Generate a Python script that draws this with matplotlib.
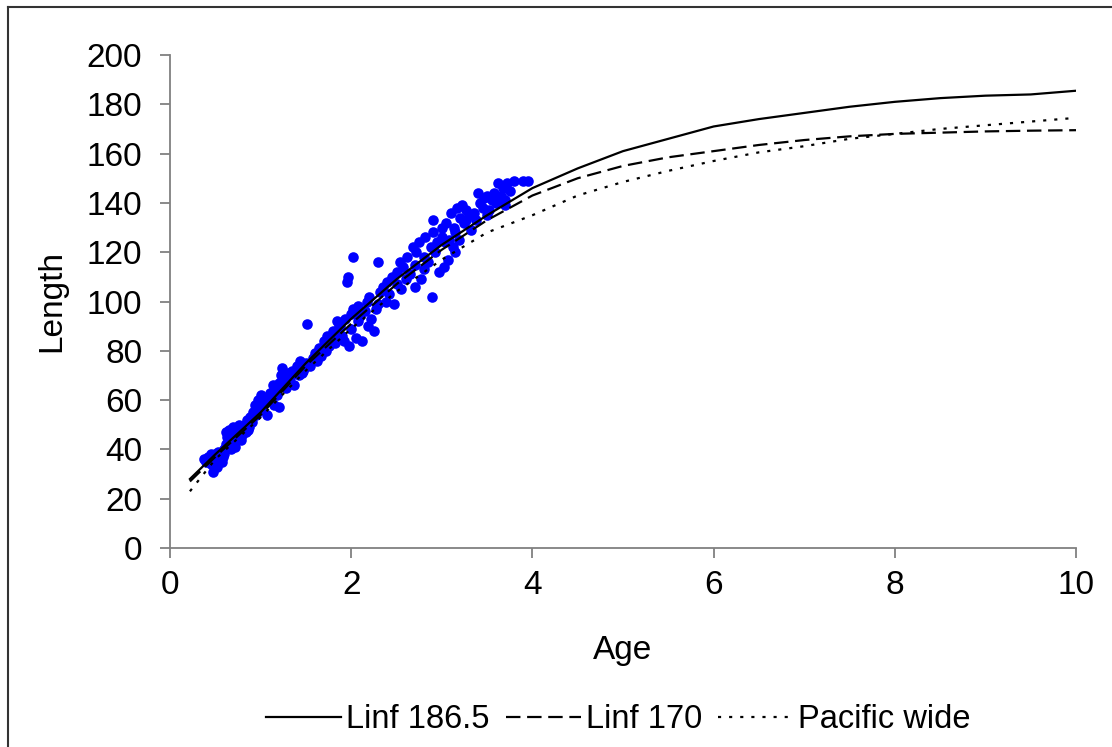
import matplotlib
matplotlib.use("Agg")
import matplotlib.pyplot as plt
from matplotlib.lines import Line2D

plt.rcParams['font.family'] = ['Liberation Sans', 'DejaVu Sans']

# Fitted growth curves (age in years, length in cm)
curve_age = [0.22, 0.5, 1, 1.5, 2, 2.5, 3, 3.5, 4, 4.5, 5, 5.5, 6, 6.5, 7,
             7.5, 8, 8.5, 9, 9.5, 10]
linf_186 = [28, 38, 55, 75, 93, 109, 123, 135, 146, 154, 161, 166, 171, 174,
            176.5, 179, 181, 182.5, 183.5, 184, 185.5]
linf_170 = [27, 37, 54, 74, 91, 107, 121, 133, 143, 150, 155, 158.5, 161,
            163.5, 165.5, 167, 168, 168.5, 169, 169.3, 169.5]
pacific = [23, 36, 53, 72, 89, 104, 117, 128, 135, 143, 148.5, 153, 157,
           160.5, 163, 166, 168, 170, 171.5, 173, 174.5]

# Observed fish
obs_age = [0.38, 0.40, 0.42, 0.45, 0.47, 0.48, 0.50, 0.52, 0.53, 0.55, 0.57,
           0.58, 0.60, 0.60, 0.62, 0.63, 0.65, 0.65, 0.67, 0.68, 0.70, 0.70,
           0.72, 0.73, 0.75, 0.76, 0.78, 0.80, 0.80, 0.82, 0.84, 0.85, 0.87,
           0.88, 0.90, 0.92, 0.94, 0.95, 0.97, 1.00, 1.00, 1.02, 1.05, 1.07,
           1.08, 1.10, 1.12, 1.14, 1.15, 1.17, 1.20, 1.20, 1.22, 1.24, 1.25,
           1.28, 1.30, 1.32, 1.35, 1.37, 1.40, 1.42, 1.44, 1.46, 1.48, 1.50,
           1.51, 1.55, 1.58, 1.60, 1.62, 1.65, 1.67, 1.70, 1.72, 1.73, 1.75,
           1.78, 1.80, 1.82, 1.84, 1.85, 1.88, 1.90, 1.92, 1.93, 1.95, 1.97,
           1.98, 2.00, 2.00, 2.02, 2.02, 2.05, 2.07, 2.08, 2.10, 2.12, 2.15,
           2.17, 2.18, 2.20, 2.22, 2.25, 2.30, 2.27, 2.30, 2.32, 2.35, 2.38,
           2.40, 2.42, 2.45, 2.47, 2.50, 2.50, 2.54, 2.55, 2.57, 2.60, 2.62,
           2.65, 2.68, 2.70, 2.70, 2.72, 2.75, 2.77, 2.80, 2.80, 2.82, 2.85,
           2.89, 2.88, 2.90, 2.90, 2.92, 2.95, 2.97, 3.00, 3.00, 3.02, 3.03,
           3.05, 3.07, 3.08, 3.10, 3.12, 3.13, 3.15, 3.15, 3.17, 3.19, 3.20,
           3.22, 3.25, 3.27, 3.27, 3.30, 3.32, 3.35, 3.38, 3.40, 3.42, 3.45,
           3.47, 3.50, 3.50, 3.52, 3.55, 3.58, 3.60, 3.62, 3.65, 3.68, 3.70,
           3.70, 3.72, 3.75, 3.80, 3.90, 3.95, 0.45, 0.62, 0.70, 0.86, 1.03,
           1.18, 1.33, 1.47, 1.63, 1.76, 1.87]
obs_len = [36, 35, 37, 34, 31, 36, 38, 33, 39, 36, 35, 37, 38, 40, 42, 45,
           48, 44, 40, 46, 49, 43, 41, 47, 45, 50, 44, 48, 46, 50, 47, 52, 49,
           53, 51, 55, 58, 54, 60, 56, 62, 57, 59, 54, 61, 63, 60, 66, 58, 64,
           57, 67, 70, 73, 68, 65, 71, 69, 72, 66, 74, 70, 76, 71, 73, 75, 91,
           74, 77, 79, 76, 81, 78, 84, 80, 86, 82, 85, 88, 83, 92, 87, 90, 86,
           84, 93, 108, 110, 82, 95, 89, 97, 118, 85, 92, 98, 94, 84, 96, 100,
           90, 102, 93, 88, 116, 97, 99, 104, 106, 100, 108, 103, 110, 99, 107,
           112, 116, 105, 114, 109, 118, 111, 122, 106, 115, 120, 124, 109,
           113, 118, 126, 116, 102, 122, 128, 133, 120, 124, 112, 130, 126,
           114, 124, 132, 117, 125, 136, 122, 130, 128, 120, 138, 125, 134,
           139, 132, 137, 133, 135, 129, 136, 133, 144, 140, 138, 142, 143,
           135, 137, 141, 144, 140, 148, 143, 146, 141, 139, 148, 145, 149,
           149, 149, 38, 47, 45, 48, 58, 62, 70, 72, 78, 84, 90]

fig = plt.figure(figsize=(11.12, 7.47), dpi=100)
ax = fig.add_axes([170 / 1112, 1 - 548 / 747, (1076 - 170) / 1112, (548 - 55) / 747])

ax.scatter(obs_age, obs_len, s=58, color='#0000FF', zorder=3, linewidths=0)
ax.plot(curve_age, linf_186, color='black', lw=1.6, label='Linf 186.5', zorder=4)
ax.plot(curve_age, linf_170, color='black', lw=1.6, dashes=(6.5, 3),
        label='Linf 170', zorder=4)
ax.plot(curve_age, pacific, color='black', lw=1.6, dashes=(1.4, 3.6),
        label='Pacific wide', zorder=4)

ax.set_xlim(0, 10)
ax.set_ylim(0, 200)
ax.set_xticks(range(0, 11, 2))
ax.set_yticks(range(0, 201, 20))
ax.set_xlabel('Age', fontsize=24, labelpad=24)
ax.set_ylabel('Length', fontsize=24, labelpad=14)
ax.tick_params(labelsize=24, direction='out', length=7, width=1.3,
               color='#808080')
ax.tick_params(axis='y', pad=13)
ax.tick_params(axis='x', pad=9)
for side in ['top', 'right']:
    ax.spines[side].set_visible(False)
for side in ['left', 'bottom']:
    ax.spines[side].set_color('#808080')
    ax.spines[side].set_linewidth(1.3)

fig.legend(loc='center', bbox_to_anchor=(0.556, 1 - 720 / 747), ncol=3,
           frameon=False, fontsize=23.5, handlelength=2.3, handletextpad=0.15,
           columnspacing=0.5)

# outer chart border (left and top edges visible)
fig.add_artist(Line2D([8 / 1112, 8 / 1112], [0, 1 - 7 / 747], color='#333333',
                      lw=1.5, transform=fig.transFigure))
fig.add_artist(Line2D([8 / 1112, 1], [1 - 7 / 747, 1 - 7 / 747], color='#333333',
                      lw=1.5, transform=fig.transFigure))

fig.savefig('out.png', dpi=100)
